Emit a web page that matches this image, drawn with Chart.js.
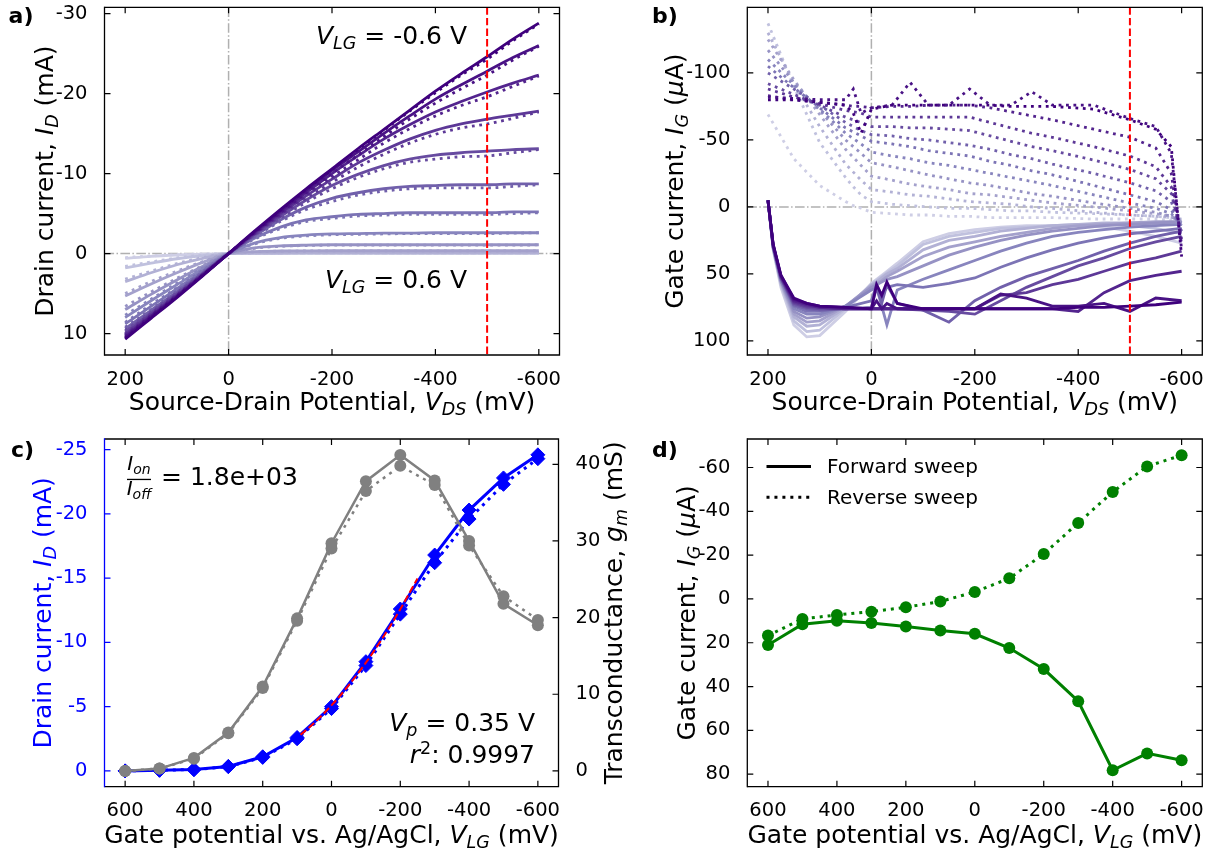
<!DOCTYPE html>
<html>
<head>
<meta charset="utf-8">
<title>Transistor characteristics</title>
<script src="https://cdn.jsdelivr.net/npm/chart.js@4.4.1/dist/chart.umd.min.js"></script>
<style>
  html, body { margin: 0; background: #fff; }
  #fig { position: relative; width: 1215px; height: 852px; overflow: hidden; }
  #fig canvas { position: absolute; left: 0; top: 0; }
</style>
</head>
<body>
<div id="fig">
  <canvas id="chartA" width="1215" height="852"></canvas>
  <canvas id="chartB" width="1215" height="852"></canvas>
  <canvas id="chartC" width="1215" height="852"></canvas>
  <canvas id="chartD" width="1215" height="852"></canvas>
</div>
<script>
// gate potentials of the sweeps in a) and b), lightest to darkest
const VLG_STEPS = ['0.6', '0.5', '0.4', '0.3', '0.2', '0.1', '0', '-0.1', '-0.2', '-0.3', '-0.4', '-0.5', '-0.6'];

// a) drain current (mA) vs source-drain potential (mV)
const A_VDS = [200, 150, 100, 50, 0, -50, -100, -150, -200, -250, -300, -350, -400, -450, -500, -550, -600];
const A_ID_FWD = [
  [0.6, 0.35, 0.18, 0.06, 0, -0.01, -0.02, -0.02, -0.02, -0.02, -0.02, -0.02, -0.02, -0.02, -0.02, -0.02, -0.02],
  [1.8, 1.2, 0.65, 0.25, 0, -0.03, -0.04, -0.05, -0.05, -0.05, -0.05, -0.05, -0.05, -0.05, -0.05, -0.05, -0.05],
  [3.5, 2.4, 1.4, 0.6, 0, -0.08, -0.1, -0.11, -0.12, -0.12, -0.12, -0.12, -0.12, -0.12, -0.12, -0.12, -0.12],
  [5.3, 3.8, 2.4, 1.1, 0, -0.25, -0.32, -0.34, -0.35, -0.35, -0.35, -0.35, -0.35, -0.35, -0.35, -0.35, -0.35],
  [7.0, 5.1, 3.3, 1.6, 0, -0.7, -0.95, -1.05, -1.1, -1.1, -1.1, -1.1, -1.1, -1.1, -1.1, -1.1, -1.1],
  [8.0, 5.9, 3.9, 1.9, 0, -1.3, -2.0, -2.3, -2.45, -2.5, -2.55, -2.55, -2.6, -2.6, -2.6, -2.6, -2.6],
  [8.8, 6.6, 4.4, 2.2, 0, -1.9, -3.3, -4.2, -4.6, -4.9, -5.0, -5.1, -5.1, -5.1, -5.1, -5.2, -5.2],
  [9.4, 7.1, 4.8, 2.4, 0, -2.2, -4.2, -5.8, -6.9, -7.6, -8.1, -8.4, -8.5, -8.6, -8.6, -8.7, -8.7],
  [9.8, 7.4, 5.0, 2.5, 0, -2.4, -4.6, -6.7, -8.5, -9.9, -11.0, -11.8, -12.3, -12.6, -12.8, -13.0, -13.1],
  [10.1, 7.6, 5.2, 2.6, 0, -2.5, -4.9, -7.2, -9.3, -11.3, -12.9, -14.3, -15.4, -16.2, -16.8, -17.3, -17.8],
  [10.3, 7.8, 5.3, 2.7, 0, -2.6, -5.1, -7.6, -10.0, -12.2, -14.3, -16.1, -17.7, -19.0, -20.2, -21.3, -22.3],
  [10.5, 7.9, 5.4, 2.7, 0, -2.7, -5.3, -7.9, -10.4, -12.7, -15.0, -17.2, -19.3, -21.1, -22.8, -24.5, -26.0],
  [10.7, 8.1, 5.5, 2.8, 0, -2.8, -5.5, -8.1, -10.6, -13.1, -15.5, -17.9, -20.3, -22.5, -24.6, -26.8, -28.8]
];
const A_ID_REV = [
  [0.5, 0.3, 0.15, 0.05, 0, -0.01, -0.02, -0.02, -0.02, -0.02, -0.02, -0.02, -0.02, -0.02, -0.02, -0.02, -0.02],
  [1.6, 1.05, 0.55, 0.2, 0, -0.03, -0.04, -0.05, -0.05, -0.05, -0.05, -0.05, -0.05, -0.05, -0.05, -0.05, -0.05],
  [3.2, 2.2, 1.25, 0.5, 0, -0.07, -0.09, -0.1, -0.1, -0.1, -0.1, -0.1, -0.1, -0.1, -0.1, -0.1, -0.1],
  [5.0, 3.5, 2.2, 1.0, 0, -0.22, -0.3, -0.32, -0.33, -0.33, -0.33, -0.33, -0.33, -0.33, -0.33, -0.33, -0.34],
  [6.6, 4.8, 3.1, 1.5, 0, -0.65, -0.9, -1.0, -1.05, -1.05, -1.05, -1.05, -1.05, -1.05, -1.05, -1.05, -1.08],
  [7.7, 5.7, 3.7, 1.8, 0, -1.2, -1.9, -2.2, -2.35, -2.4, -2.45, -2.5, -2.5, -2.5, -2.5, -2.55, -2.6],
  [8.6, 6.4, 4.3, 2.1, 0, -1.8, -3.1, -4.0, -4.4, -4.7, -4.8, -4.9, -4.9, -4.9, -4.9, -5.0, -5.1],
  [9.2, 7.0, 4.7, 2.3, 0, -2.1, -4.0, -5.5, -6.5, -7.3, -7.8, -8.1, -8.2, -8.2, -8.2, -8.4, -8.6],
  [9.6, 7.3, 4.9, 2.5, 0, -2.3, -4.4, -6.4, -8.1, -9.5, -10.6, -11.4, -11.8, -12.1, -12.2, -12.6, -13.0],
  [10.0, 7.5, 5.1, 2.6, 0, -2.4, -4.7, -6.9, -8.9, -10.8, -12.4, -13.8, -14.9, -15.7, -16.2, -16.9, -17.7],
  [10.2, 7.7, 5.2, 2.6, 0, -2.5, -4.9, -7.3, -9.6, -11.7, -13.8, -15.6, -17.2, -18.5, -19.6, -20.9, -22.2],
  [10.4, 7.8, 5.3, 2.7, 0, -2.6, -5.1, -7.6, -10.0, -12.3, -14.6, -16.8, -18.8, -20.6, -22.3, -24.2, -25.9],
  [10.6, 8.0, 5.4, 2.7, 0, -2.7, -5.4, -8.0, -10.5, -13.0, -15.4, -17.8, -20.1, -22.3, -24.3, -26.6, -28.7]
];

// b) gate current (uA) vs source-drain potential (mV)
const B_VDS_FWD = [200, 190, 175, 150, 125, 100, 50, 0, -10, -20, -30, -50, -100, -150, -200, -250, -300, -350, -400, -450, -500, -550, -600];
const B_IG_FWD = [
  [-5, 32, 60, 88, 97, 96, 78, 57, 54, 51, 48, 42, 26, 20, 17, 15, 14, 14, 14, 15, 18, 22, 27],
  [-5, 31, 58, 85, 93, 92, 76, 58, 55, 52, 49, 44, 28, 22, 19, 16, 15, 14, 13, 13, 14, 16, 20],
  [-5, 31, 57, 82, 89, 88, 75, 58, 56, 53, 50, 46, 32, 25, 22, 18, 16, 14, 13, 12, 12, 12, 12],
  [-5, 30, 56, 80, 86, 85, 74, 59, 57, 55, 52, 48, 37, 30, 26, 22, 19, 16, 14, 13, 12, 11, 11],
  [-5, 30, 55, 78, 83, 82, 74, 60, 58, 56, 54, 52, 44, 36, 30, 25, 21, 18, 16, 14, 13, 12, 11],
  [-5, 30, 55, 76, 80, 80, 74, 62, 60, 74, 88, 62, 54, 47, 40, 33, 27, 22, 19, 17, 15, 14, 13],
  [-5, 30, 54, 74, 78, 78, 75, 70, 58, 66, 60, 58, 60, 57, 53, 45, 38, 32, 27, 23, 20, 18, 16],
  [-5, 29, 53, 73, 76, 77, 76, 75, 60, 72, 58, 72, 77, 86, 70, 60, 52, 46, 40, 33, 27, 22, 18],
  [-5, 29, 53, 72, 75, 76, 76, 76, 76, 76, 76, 76, 77, 78, 80, 70, 60, 52, 44, 38, 31, 26, 22],
  [-5, 29, 52, 71, 74, 75, 76, 76, 76, 76, 76, 76, 76, 76, 76, 66, 64, 58, 54, 48, 42, 38, 33],
  [-5, 28, 52, 70, 73, 75, 76, 76, 76, 76, 76, 76, 76, 76, 76, 76, 76, 76, 78, 64, 55, 51, 48],
  [-5, 28, 51, 69, 72, 74, 75, 76, 70, 76, 72, 76, 76, 76, 76, 65, 68, 74, 74, 72, 78, 68, 70],
  [-5, 28, 51, 68, 72, 74, 75, 76, 58, 66, 56, 72, 76, 76, 76, 76, 76, 76, 75, 75, 74, 73, 71]
];
const B_VDS_REV = [200, 150, 100, 50, 35, 20, 0, -40, -75, -110, -150, -190, -230, -270, -310, -350, -430, -500, -550, -580, -600];
const B_IG_REV = [
  [-69, -36, -16, -4, -1, 1, 4, 5, 6, 6, 7, 7, 8, 8, 8, 8, 9, 9, 9, 10, 10],
  [-137, -90, -48, -22, -15, -9, -4, -2, -1, 0, 1, 1, 2, 3, 3, 4, 5, 6, 7, 8, 9],
  [-130, -92, -60, -32, -26, -20, -13, -11, -9, -8, -6, -4, -3, -2, 0, 1, 4, 6, 7, 8, 9],
  [-125, -95, -69, -43, -37, -31, -23, -20, -17, -15, -13, -10, -9, -7, -5, -3, 0, 3, 5, 7, 10],
  [-117, -93, -72, -50, -45, -40, -33, -30, -27, -24, -21, -18, -16, -13, -10, -8, -3, 1, 4, 7, 12],
  [-110, -91, -73, -55, -51, -47, -41, -38, -36, -33, -31, -28, -25, -22, -19, -16, -9, -3, 1, 5, 14],
  [-105, -89, -74, -59, -56, -53, -49, -47, -45, -42, -40, -38, -34, -31, -27, -24, -16, -9, -4, 2, 16],
  [-100, -88, -76, -63, -60, -57, -54, -53, -51, -50, -48, -46, -43, -39, -36, -32, -25, -18, -12, -4, 18],
  [-92, -84, -76, -67, -65, -63, -60, -60, -59, -59, -58, -57, -53, -49, -45, -42, -35, -28, -21, -10, 20],
  [-88, -82, -77, -72, -71, -70, -67, -67, -67, -67, -67, -67, -63, -59, -55, -52, -45, -38, -30, -15, 24],
  [-83, -80, -78, -76, -75, -75, -74, -75, -75, -76, -76, -76, -74, -71, -68, -65, -58, -52, -44, -25, 28],
  [-82, -81, -80, -80, -88, -70, -74, -76, -93, -76, -76, -88, -76, -76, -86, -76, -76, -66, -60, -40, 32],
  [-80, -80, -78, -76, -70, -55, -73, -76, -76, -76, -76, -76, -76, -75, -75, -75, -73, -65, -58, -45, 37]
];

// c) transfer curve at VDS = -500 mV and transconductance
const C_VLG = [600, 500, 400, 300, 200, 100, 0, -100, -200, -300, -400, -500, -600];
const C_ID_FWD = [0, -0.05, -0.1, -0.35, -1.1, -2.6, -5.0, -8.5, -12.6, -16.8, -20.3, -22.8, -24.6];
const C_ID_REV = [0, -0.05, -0.1, -0.33, -1.05, -2.5, -4.85, -8.2, -12.2, -16.2, -19.6, -22.3, -24.3];
const C_GM_FWD = [0, 0.3, 1.7, 5.0, 11.0, 19.9, 29.7, 37.8, 41.2, 37.9, 30.0, 21.8, 19.0];
const C_GM_REV = [0, 0.3, 1.6, 4.9, 10.8, 19.6, 29.0, 36.5, 39.8, 37.3, 29.4, 22.8, 19.7];
const C_FIT_VLG = [90, 50, 0, -50, -100, -150, -200, -250];
const C_FIT_ID = [-2.81, -3.74, -5.10, -6.66, -8.42, -10.4, -12.58, -14.98];

// d) gate current at VDS = -500 mV
const D_IG_FWD = [21, 11.5, 10, 11, 12.6, 14.4, 15.9, 22.4, 32, 46.7, 78.2, 70.5, 73.6];
const D_IG_REV = [16.7, 9.1, 7.3, 5.8, 3.8, 1.2, -3.2, -9.4, -20.5, -34.7, -48.8, -60.5, -65.6];

// tick values
const AB_XTICKS = [200, 0, -200, -400, -600];
const A_YTICKS = [-30, -20, -10, 0, 10];
const B_YTICKS = [-100, -50, 0, 50, 100];
const CD_XTICKS = [600, 400, 200, 0, -200, -400, -600];
const C_YTICKS = [-25, -20, -15, -10, -5, 0];
const C_Y1TICKS = [0, 10, 20, 30, 40];
const D_YTICKS = [-60, -40, -20, 0, 20, 40, 60, 80];
const MARK_VDS = -500;

// styling
const PURPLES = ['#cecee5', '#c0c1de', '#b2b1d5', '#a4a1cc', '#9692c4', '#8885be', '#7c74b5',
                 '#7160ab', '#674ba0', '#5d3897', '#53248e', '#491285', '#3f007d'];
const FAMILY = "'DejaVu Sans'";
const TICK_FONT = { family: FAMILY, size: 19.5 };

function pts(xs, ys) {
  return xs.map((x, j) => ({ x, y: ys[j] }));
}

// text with italic / subscript / superscript pieces
function rich(ctx, parts, x, y, size, opt) {
  opt = opt || {};
  ctx.save();
  ctx.translate(x, y);
  if (opt.rot) ctx.rotate(opt.rot);
  ctx.fillStyle = opt.color || '#000';
  ctx.textBaseline = 'alphabetic';
  ctx.textAlign = 'left';
  const items = parts.map(([t, st]) => {
    const small = st.includes('s') || st.includes('p');
    const sz = small ? size * 0.7 : size;
    const font = (st.includes('i') ? 'italic ' : '') + (opt.bold ? 'bold ' : '') + sz + 'px ' + FAMILY;
    ctx.font = font;
    const dy = st.includes('s') ? size * 0.2 : st.includes('p') ? -size * 0.38 : 0;
    return { t, font, dy, w: ctx.measureText(t).width };
  });
  const total = items.reduce((s, it) => s + it.w, 0);
  let cx = opt.align === 'center' ? -total / 2 : opt.align === 'right' ? -total : 0;
  items.forEach(it => {
    ctx.font = it.font;
    ctx.fillText(it.t, cx, it.dy);
    cx += it.w;
  });
  ctx.restore();
}

function xAxis(min, max, ticks) {
  return {
    type: 'linear', min, max, reverse: true,
    grid: { display: false }, border: { display: false },
    afterBuildTicks: s => { s.ticks = ticks.map(v => ({ value: v })); },
    afterFit: s => { s.height = 40; s.paddingLeft = 0; s.paddingRight = 0; },
    ticks: { autoSkip: false, maxRotation: 0, minRotation: 0, padding: 5, color: '#000', font: TICK_FONT, callback: v => String(v) }
  };
}

function yAxis(min, max, ticks, o) {
  o = o || {};
  return {
    type: 'linear', min, max, reverse: o.reverse !== false, position: o.position || 'left',
    grid: { display: false }, border: { display: false },
    afterBuildTicks: s => { s.ticks = ticks.map(v => ({ value: v })); },
    afterFit: s => { s.width = 60; s.paddingTop = 0; s.paddingBottom = 0; },
    ticks: { autoSkip: false, padding: 9, color: o.color || '#000', font: TICK_FONT, callback: v => String(v) }
  };
}

// box, inward ticks, reference lines and annotations
function frame(o) {
  return {
    id: 'frame' + o.name,
    beforeDatasetsDraw(chart) {
      if (!o.zeroLines) return;
      const { ctx, chartArea: ca, scales: { x, y } } = chart;
      const px = x.getPixelForValue(0), py = y.getPixelForValue(0);
      ctx.save();
      ctx.strokeStyle = '#b0b0b0';
      ctx.lineWidth = 1.5;
      ctx.setLineDash([9.6, 2.4, 1.5, 2.4]);
      ctx.beginPath();
      ctx.moveTo(px, ca.top); ctx.lineTo(px, ca.bottom);
      ctx.moveTo(ca.left, py); ctx.lineTo(ca.right, py);
      ctx.stroke();
      ctx.restore();
    },
    afterDatasetsDraw(chart) {
      if (o.markX === undefined) return;
      const { ctx, chartArea: ca, scales: { x } } = chart;
      const px = x.getPixelForValue(o.markX);
      ctx.save();
      ctx.strokeStyle = '#ff0000';
      ctx.lineWidth = 2;
      ctx.setLineDash([7.4, 3.2]);
      ctx.beginPath();
      ctx.moveTo(px, ca.top); ctx.lineTo(px, ca.bottom);
      ctx.stroke();
      ctx.restore();
    },
    afterDraw(chart) {
      const { ctx, chartArea: ca, scales } = chart;
      const T = 6;
      const left = o.leftColor || '#000';
      ctx.save();
      ctx.lineWidth = 1.2;
      ctx.strokeStyle = '#000';
      ctx.beginPath();
      scales.x.ticks.forEach(t => {
        const p = scales.x.getPixelForValue(t.value);
        ctx.moveTo(p, ca.bottom); ctx.lineTo(p, ca.bottom - T);
        ctx.moveTo(p, ca.top); ctx.lineTo(p, ca.top + T);
      });
      const right = scales.y1 || scales.y;
      right.ticks.forEach(t => {
        const p = right.getPixelForValue(t.value);
        ctx.moveTo(ca.right, p); ctx.lineTo(ca.right - T, p);
      });
      ctx.stroke();
      ctx.strokeStyle = left;
      ctx.beginPath();
      scales.y.ticks.forEach(t => {
        const p = scales.y.getPixelForValue(t.value);
        ctx.moveTo(ca.left, p); ctx.lineTo(ca.left + T, p);
      });
      ctx.stroke();
      ctx.lineWidth = 1.3;
      ctx.strokeStyle = '#000';
      ctx.beginPath();
      ctx.moveTo(ca.left, ca.top); ctx.lineTo(ca.right, ca.top);
      ctx.lineTo(ca.right, ca.bottom); ctx.lineTo(ca.left, ca.bottom);
      ctx.stroke();
      ctx.strokeStyle = left;
      ctx.beginPath();
      ctx.moveTo(ca.left, ca.top - 0.65); ctx.lineTo(ca.left, ca.bottom + 0.65);
      ctx.stroke();
      ctx.restore();
      o.texts(ctx, ca);
    }
  };
}

function makeChart(id, datasets, scales, padding, deco) {
  return new Chart(document.getElementById(id), {
    type: 'line',
    data: { datasets },
    options: {
      responsive: false, animation: false, devicePixelRatio: 1, events: [],
      layout: { padding },
      plugins: { legend: { display: false }, tooltip: { enabled: false } },
      scales
    },
    plugins: [deco]
  });
}

const SWEEP_W = 2.8;

function sweepSets(xs, fwd, rev, smooth) {
  const sets = [];
  fwd.forEach((row, i) => sets.push({
    label: 'VLG ' + VLG_STEPS[i] + ' V forward', data: pts(xs[0], row),
    borderColor: PURPLES[i], borderWidth: SWEEP_W, pointRadius: 0, order: 100 - i,
    cubicInterpolationMode: smooth ? 'monotone' : 'default'
  }));
  rev.forEach((row, i) => sets.push({
    label: 'VLG ' + VLG_STEPS[i] + ' V reverse', data: pts(xs[1], row),
    borderColor: PURPLES[i], borderWidth: SWEEP_W, borderDash: [SWEEP_W, SWEEP_W * 1.65], pointRadius: 0, order: 100 - i,
    cubicInterpolationMode: smooth ? 'monotone' : 'default'
  }));
  return sets;
}

const DOT = [3, 4.95];

// ---- a)
makeChart('chartA', sweepSets([A_VDS, A_VDS], A_ID_FWD, A_ID_REV, true),
  { x: xAxis(-640, 240, AB_XTICKS), y: yAxis(-30.78, 12.68, A_YTICKS) },
  { left: 44.5, top: 7.3, right: 655.5, bottom: 457 },
  frame({
    name: 'A', zeroLines: true, markX: MARK_VDS,
    texts(ctx, ca) {
      const mid = (ca.top + ca.bottom) / 2, cx = (ca.left + ca.right) / 2;
      rich(ctx, [['Drain current, ', ''], ['I', 'i'], ['D', 'is'], [' (mA)', '']], 52.5, mid, 25, { rot: -Math.PI / 2, align: 'center' });
      rich(ctx, [['Source-Drain Potential, ', ''], ['V', 'i'], ['DS', 'is'], [' (mV)', '']], cx, 410, 25, { align: 'center' });
      rich(ctx, [['a)', '']], 8.6, 23, 22, { bold: true });
      rich(ctx, [['V', 'i'], ['LG', 'is'], [' = -0.6 V', '']], 467, 44, 25, { align: 'right' });
      rich(ctx, [['V', 'i'], ['LG', 'is'], [' = 0.6 V', '']], 467, 288, 25, { align: 'right' });
    }
  }));

// ---- b)
makeChart('chartB', sweepSets([B_VDS_FWD, B_VDS_REV], B_IG_FWD, B_IG_REV, false),
  { x: xAxis(-640, 240, AB_XTICKS), y: yAxis(-149, 110.5, B_YTICKS) },
  { left: 687.3, top: 7.3, right: 12.7, bottom: 457 },
  frame({
    name: 'B', zeroLines: true, markX: MARK_VDS,
    texts(ctx, ca) {
      const mid = (ca.top + ca.bottom) / 2, cx = (ca.left + ca.right) / 2;
      rich(ctx, [['Gate current, ', ''], ['I', 'i'], ['G', 'is'], [' (', ''], ['\u03bc', 'i'], ['A)', '']], 683, mid, 25, { rot: -Math.PI / 2, align: 'center' });
      rich(ctx, [['Source-Drain Potential, ', ''], ['V', 'i'], ['DS', 'is'], [' (mV)', '']], cx, 410, 25, { align: 'center' });
      rich(ctx, [['b)', '']], 652, 23, 22, { bold: true });
    }
  }));

// ---- c)
makeChart('chartC', [
    { label: 'ID forward', data: pts(C_VLG, C_ID_FWD), yAxisID: 'y', borderColor: '#0000ff', backgroundColor: '#0000ff',
      borderWidth: 3, pointStyle: 'rectRot', pointRadius: 7, pointBorderWidth: 1, order: 5 },
    { label: 'ID reverse', data: pts(C_VLG, C_ID_REV), yAxisID: 'y', borderColor: '#0000ff', backgroundColor: '#0000ff',
      borderWidth: 3, borderDash: DOT, pointStyle: 'rectRot', pointRadius: 7, pointBorderWidth: 1, order: 5 },
    { label: 'fit', data: pts(C_FIT_VLG, C_FIT_ID), yAxisID: 'y', borderColor: '#ff0000',
      borderWidth: 2, borderDash: [7.4, 3.2], pointRadius: 0, cubicInterpolationMode: 'monotone', order: 4 },
    { label: 'gm forward', data: pts(C_VLG, C_GM_FWD), yAxisID: 'y1', borderColor: '#808080', backgroundColor: '#808080',
      borderWidth: 2.5, pointStyle: 'circle', pointRadius: 6, pointBorderWidth: 0, order: 1 },
    { label: 'gm reverse', data: pts(C_VLG, C_GM_REV), yAxisID: 'y1', borderColor: '#808080', backgroundColor: '#808080',
      borderWidth: 2.5, borderDash: DOT, pointStyle: 'circle', pointRadius: 6, pointBorderWidth: 0, order: 1 }
  ],
  { x: xAxis(-660, 660, CD_XTICKS),
    y: yAxis(-25.83, 1.23, C_YTICKS, { color: '#0000ff' }),
    y1: yAxis(-2.06, 43.3, C_Y1TICKS, { reverse: false, position: 'right' }) },
  { left: 44.5, top: 439, right: 596.5, bottom: 25.3 },
  frame({
    name: 'C', leftColor: '#0000ff',
    texts(ctx, ca) {
      const mid = (ca.top + ca.bottom) / 2, cx = (ca.left + ca.right) / 2;
      rich(ctx, [['Drain current, ', ''], ['I', 'i'], ['D', 'is'], [' (mA)', '']], 51, mid, 25, { rot: -Math.PI / 2, align: 'center', color: '#0000ff' });
      rich(ctx, [['Transconductance, ', ''], ['g', 'i'], ['m', 'is'], [' (mS)', '']], 622, mid, 25, { rot: -Math.PI / 2, align: 'center' });
      rich(ctx, [['Gate potential vs. Ag/AgCl, ', ''], ['V', 'i'], ['LG', 'is'], [' (mV)', '']], cx, 843, 25, { align: 'center' });
      rich(ctx, [['c)', '']], 10.9, 457, 22, { bold: true });
      rich(ctx, [['I', 'i'], ['on', 'is']], 139, 470, 20, { align: 'center' });
      ctx.fillStyle = '#000';
      ctx.fillRect(127, 478.8, 24, 1.3);
      rich(ctx, [['I', 'i'], ['off', 'is']], 139, 495, 20, { align: 'center' });
      rich(ctx, [['= 1.8e+03', '']], 161, 485, 25);
      rich(ctx, [['V', 'i'], ['p', 'is'], [' = 0.35 V', '']], 535, 731, 25, { align: 'right' });
      rich(ctx, [['r', 'i'], ['2', 'p'], [': 0.9997', '']], 535, 763, 25, { align: 'right' });
    }
  }));

// ---- d)
makeChart('chartD', [
    { label: 'Forward sweep', data: pts(C_VLG, D_IG_FWD), borderColor: '#008000', backgroundColor: '#008000',
      borderWidth: 3, pointStyle: 'circle', pointRadius: 6, pointBorderWidth: 0 },
    { label: 'Reverse sweep', data: pts(C_VLG, D_IG_REV), borderColor: '#008000', backgroundColor: '#008000',
      borderWidth: 3, borderDash: DOT, pointStyle: 'circle', pointRadius: 6, pointBorderWidth: 0 }
  ],
  { x: xAxis(-660, 660, CD_XTICKS), y: yAxis(-73, 85.7, D_YTICKS) },
  { left: 687.3, top: 439, right: 12.7, bottom: 25.3 },
  frame({
    name: 'D',
    texts(ctx, ca) {
      const mid = (ca.top + ca.bottom) / 2, cx = (ca.left + ca.right) / 2;
      rich(ctx, [['Gate current, ', ''], ['I', 'i'], ['G', 'is'], [' (', ''], ['\u03bc', 'i'], ['A)', '']], 694.5, mid, 25, { rot: -Math.PI / 2, align: 'center' });
      rich(ctx, [['Gate potential vs. Ag/AgCl, ', ''], ['V', 'i'], ['LG', 'is'], [' (mV)', '']], cx, 843, 25, { align: 'center' });
      rich(ctx, [['d)', '']], 652, 457, 22, { bold: true });
      // legend
      ctx.save();
      ctx.strokeStyle = '#000';
      ctx.lineWidth = 3;
      ctx.beginPath(); ctx.moveTo(766.5, 466.6); ctx.lineTo(811, 466.6); ctx.stroke();
      ctx.setLineDash(DOT);
      ctx.beginPath(); ctx.moveTo(766.5, 497.2); ctx.lineTo(811, 497.2); ctx.stroke();
      ctx.restore();
      rich(ctx, [['Forward sweep', '']], 827, 473, 20);
      rich(ctx, [['Reverse sweep', '']], 827, 504, 20);
    }
  }));
</script>
</body>
</html>
